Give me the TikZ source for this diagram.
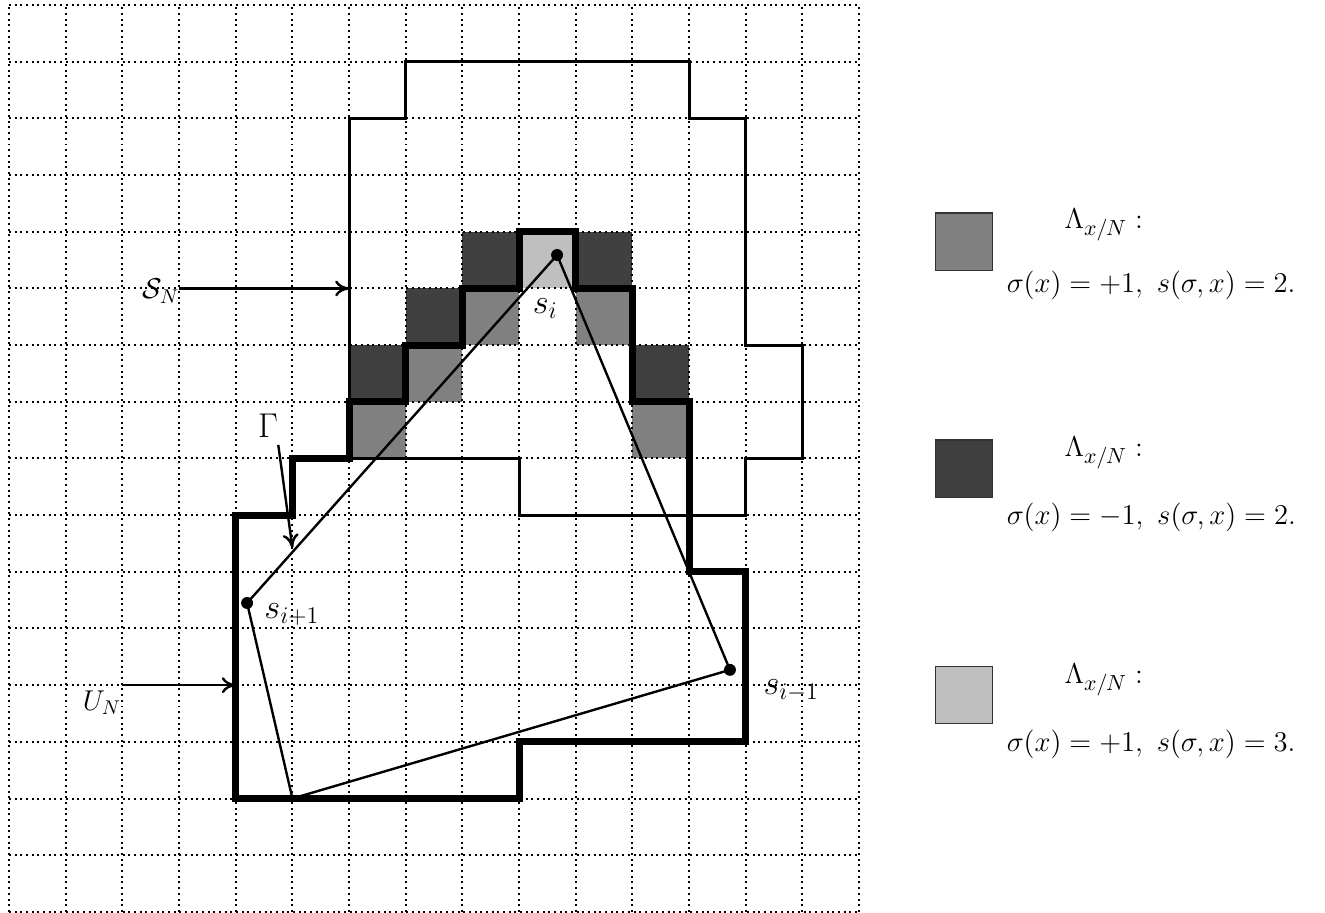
\documentclass[tikz,border=0pt]{standalone}
\usepackage{amsmath,amssymb}
\usepackage{tikz}
\usetikzlibrary{arrows.meta}

\begin{document}
\begin{tikzpicture}[
  font=\Large,
  gridline/.style={line width=1pt, dash pattern=on 1pt off 1.85pt},
  spinbox/.style={line width=1.4pt},
  contour/.style={line width=3.5pt},
  pathline/.style={line width=1.2pt},
  labelarrow/.style={
    -{To[length=7pt,width=8pt]},
    line width=1.2pt
  },
  sitedot/.style={circle, fill=black, inner sep=0pt, minimum size=6pt},
  sitelabel/.style={font=\LARGE},
  legendtext/.style={anchor=west, font=\fontsize{15}{18}\selectfont},
  cellplus/.style={fill=black!50},
  cellminus/.style={fill=black!75},
  celltop/.style={fill=black!25},
  legendbox/.style={
    rectangle,
    draw=black!80,
    line width=0.6pt,
    minimum size=1.01cm,
    inner sep=0pt
  }
]
\useasboundingbox (-0.16,-0.02) rectangle (23.22,16.09);

% cells along the contour
\foreach \x/\y in {8/10,10/10,7/9,6/8,11/8}
  \fill[cellplus] (\x,\y) rectangle ++(1,1);
\foreach \x/\y in {8/11,10/11,7/10,6/9,11/9}
  \fill[cellminus] (\x,\y) rectangle ++(1,1);
\fill[celltop] (9,11) rectangle ++(1,1);

% lattice
\draw[gridline] (0,0) grid (15,16);

% S_N
\draw[spinbox] (7,15) -- (12,15) -- (12,14) -- (13,14) -- (13,10) -- (14,10)
  -- (14,8) -- (13,8) -- (13,7) -- (9,7) -- (9,8) -- (6,8) -- (6,14)
  -- (7,14) -- cycle;

% U_N / Gamma
\draw[contour] (4,2) -- (4,7) -- (5,7) -- (5,8) -- (6,8) -- (6,9) -- (7,9)
  -- (7,10) -- (8,10) -- (8,11) -- (9,11) -- (9,12) -- (10,12) -- (10,11)
  -- (11,11) -- (11,9) -- (12,9) -- (12,6) -- (13,6) -- (13,3) -- (9,3)
  -- (9,2) -- cycle;

% polygon through the sites
\coordinate (si) at (9.67,11.59);
\coordinate (sip) at (4.2,5.45);
\coordinate (sim) at (12.72,4.27);
\coordinate (base) at (5,2);

\draw[pathline] (si) -- (sip) -- (base) -- (sim) -- cycle;

\node[sitedot] (dotsi) at (si) {};
\node[sitedot] (dotsip) at (sip) {};
\node[sitedot] (dotsim) at (sim) {};

\node[sitelabel] (silabel) at (9.46,10.65) {$s_i$};
\node[sitelabel, anchor=west, inner sep=0pt] (siplabel) at (4.5,5.25) {$s_{i+1}$};
\node[sitelabel] (simlabel) at (13.8,3.9) {$s_{i-1}$};

% labels with arrows
\node (snlabel) at (2.68,10.95) {$\mathcal{S}_N$};
\coordinate (snfrom) at (3,11);
\coordinate (snto) at (6,11);
\draw[labelarrow] (snfrom) -- (snto);

\node (unlabel) at (1.64,3.69) {$U_N$};
\coordinate (unfrom) at (2,4);
\coordinate (unto) at (4,4);
\draw[labelarrow] (unfrom) -- (unto);

\node[sitelabel] (gammalabel) at (4.57,8.58) {$\Gamma$};
\coordinate (gammafrom) at (4.75,8.24);
\coordinate (gammato) at (5.0,6.42);
\draw[labelarrow] (gammafrom) -- (gammato);

% legend
\node[legendbox, fill=black!50] (boxplus) at (16.845,11.825) {};
\node[legendtext] (lamplus) at (18.5,12.12) {$\Lambda_{x/N}:$};
\node[legendtext] (textplus) at (17.48,11.06) {$\sigma(x)=+1,\ s(\sigma,x)=2.$};

\node[legendbox, fill=black!75] (boxminus) at (16.845,7.82) {};
\node[legendtext] (lamminus) at (18.5,8.1) {$\Lambda_{x/N}:$};
\node[legendtext] (textminus) at (17.48,6.97) {$\sigma(x)=-1,\ s(\sigma,x)=2.$};

\node[legendbox, fill=black!25] (boxtop) at (16.845,3.825) {};
\node[legendtext] (lamtop) at (18.5,4.09) {$\Lambda_{x/N}:$};
\node[legendtext] (texttop) at (17.48,2.95) {$\sigma(x)=+1,\ s(\sigma,x)=3.$};

\end{tikzpicture}
\end{document}
